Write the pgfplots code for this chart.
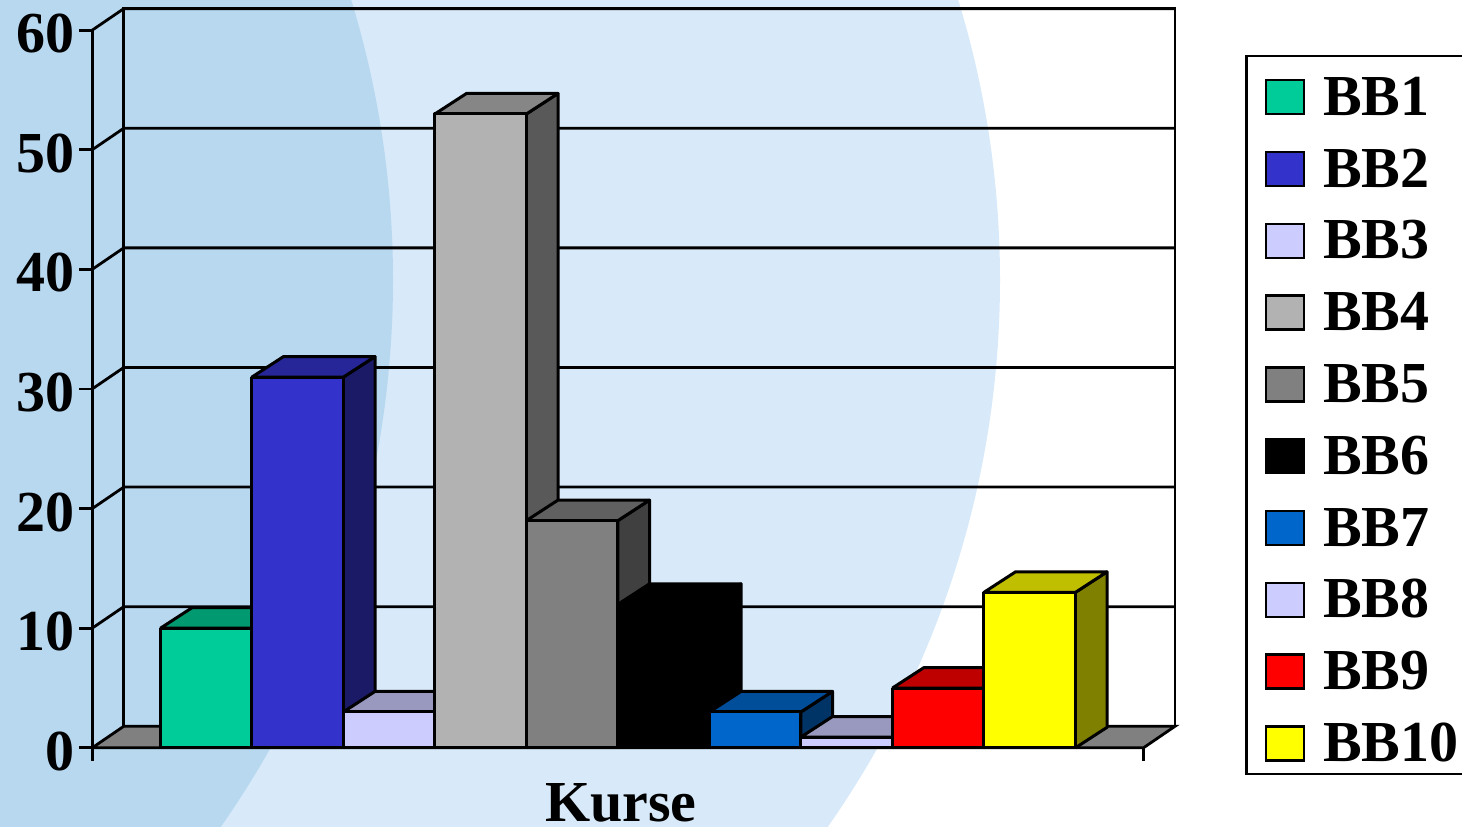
\documentclass[border=0pt]{standalone}
\usepackage{fontspec}
\setmainfont{Liberation Serif}
\usepackage{pgfplots}
\pgfplotsset{compat=1.18}
\definecolor{bgl}{HTML}{D8EAF9}
\definecolor{bgd}{HTML}{B8D8F0}
\definecolor{ca}{HTML}{00CC99}\definecolor{cb}{HTML}{009970}\definecolor{cc}{HTML}{006650}
\definecolor{da}{HTML}{3333CC}\definecolor{db}{HTML}{262699}\definecolor{dc}{HTML}{1A1A66}
\definecolor{ea}{HTML}{CCCCFF}\definecolor{eb}{HTML}{9999BF}\definecolor{ec}{HTML}{666680}
\definecolor{fa}{HTML}{B2B2B2}\definecolor{fb}{HTML}{868686}\definecolor{fc}{HTML}{595959}
\definecolor{ga}{HTML}{808080}\definecolor{gb}{HTML}{606060}\definecolor{gc}{HTML}{404040}
\definecolor{ha}{HTML}{0066CC}\definecolor{hb}{HTML}{004D99}\definecolor{hc}{HTML}{003366}
\definecolor{ia}{HTML}{FF0000}\definecolor{ib}{HTML}{BF0000}\definecolor{ic}{HTML}{800000}
\definecolor{ja}{HTML}{FFFF00}\definecolor{jb}{HTML}{BFBF00}\definecolor{jc}{HTML}{808000}
\newcommand\wallline[1]{%
  \pgfmathsetmacro\vb{#1+1.80}%
  \addplot[forget plot,black,line width=2.8pt] coordinates {(-0.7464,#1) (-0.4011,\vb) (11.088,\vb)};%
}
\newcommand\threedbar[5]{%
  \pgfmathsetmacro\xa{#1}\pgfmathsetmacro\xb{#1+1}\pgfmathsetmacro\xc{#1+1.345}\pgfmathsetmacro\xd{#1+0.345}%
  \pgfmathsetmacro\yb{#2+1.714}\pgfmathsetmacro\yz{1.714}%
  \addplot[forget plot,fill=#5,draw=black,line width=3pt,line join=round] coordinates {(\xb,0) (\xc,\yz) (\xc,\yb) (\xb,#2) (\xb,0)};%
  \addplot[forget plot,fill=#4,draw=black,line width=3pt,line join=round] coordinates {(\xa,#2) (\xd,\yb) (\xc,\yb) (\xb,#2) (\xa,#2)};%
  \addplot[forget plot,fill=#3,draw=black,line width=3pt,line join=round] coordinates {(\xa,0) (\xa,#2) (\xb,#2) (\xb,0) (\xa,0)};%
}
\begin{document}
\begin{tikzpicture}[x=1pt,y=1pt]
\useasboundingbox (0,0) rectangle (1462,827);
\clip (0,0) rectangle (1462,827);
\fill[bgl] (46,547) circle (954);
\fill[bgd] (-561,547) circle (954);
\begin{axis}[
  at={(100.7,66.2)},anchor=south west,
  scale only axis,width=1051.3pt,height=717.6pt,
  xmin=-0.7464,xmax=10.743,ymin=0,ymax=60,
  axis x line=bottom,axis y line=left,
  axis line style={-,line width=2.8pt,black},
  clip=false,
  xtick={-0.7464,10.743},xticklabels={,},
  ytick={0,10,20,30,40,50,60},
  major tick length=13pt,
  tick style={line width=2.8pt,black},
  tick align=outside,
  y tick label style={font=\fontsize{58}{58}\selectfont\bfseries,xshift=-1pt,yshift=-3.5pt},
  /pgf/number format/assume math mode=true,
  xlabel={Kurse},
  xlabel style={font=\fontsize{58}{58}\selectfont\bfseries,anchor=base,at={(axis description cs:0.503,0)},yshift=-74pt},
  legend style={at={(1.097,0.9654)},anchor=north west,draw=black,fill=white,line width=2.4pt,
    font=\fontsize{58}{58}\selectfont\bfseries,
    inner xsep=18pt,inner ysep=0pt,
    nodes={inner sep=0pt,text height=59pt,text depth=12.8pt},
    /tikz/every odd column/.append style={column sep=18pt}},
  legend cell align=left,
  legend image code/.code={\draw[#1,line width=2.4pt] (0pt,-22pt) rectangle (38pt,12pt);},
]
% floor
\addplot[forget plot,fill=gray,draw=black,line width=2.8pt] coordinates {(-0.7464,0) (-0.4011,1.80) (11.088,1.80) (10.743,0) (-0.7464,0)};
% back wall and left front edge
\addplot[forget plot,black,line width=2.8pt] coordinates {(-0.4011,1.80) (-0.4011,61.80) (11.088,61.80) (11.088,1.80)};
\addplot[forget plot,black,line width=2.8pt] coordinates {(-0.7464,0) (-0.7464,60)};
\wallline{10}\wallline{20}\wallline{30}\wallline{40}\wallline{50}\wallline{60}
% bars
\threedbar{0}{10}{ca}{cb}{cc}
\threedbar{1}{31}{da}{db}{dc}
\threedbar{2}{3}{ea}{eb}{ec}
\threedbar{3}{53}{fa}{fb}{fc}
\threedbar{4}{19}{ga}{gb}{gc}
\threedbar{5}{12}{black}{black}{black}
\threedbar{6}{3}{ha}{hb}{hc}
\threedbar{7}{0.9}{ea}{eb}{ec}
\threedbar{8}{5}{ia}{ib}{ic}
\threedbar{9}{13}{ja}{jb}{jc}
\addlegendimage{fill=ca,draw=black}\addlegendentry{BB1}
\addlegendimage{fill=da,draw=black}\addlegendentry{BB2}
\addlegendimage{fill=ea,draw=black}\addlegendentry{BB3}
\addlegendimage{fill=fa,draw=black}\addlegendentry{BB4}
\addlegendimage{fill=ga,draw=black}\addlegendentry{BB5}
\addlegendimage{fill=black,draw=black}\addlegendentry{BB6}
\addlegendimage{fill=ha,draw=black}\addlegendentry{BB7}
\addlegendimage{fill=ea,draw=black}\addlegendentry{BB8}
\addlegendimage{fill=ia,draw=black}\addlegendentry{BB9}
\addlegendimage{fill=ja,draw=black}\addlegendentry{BB10}
\end{axis}
\end{tikzpicture}
\end{document}
